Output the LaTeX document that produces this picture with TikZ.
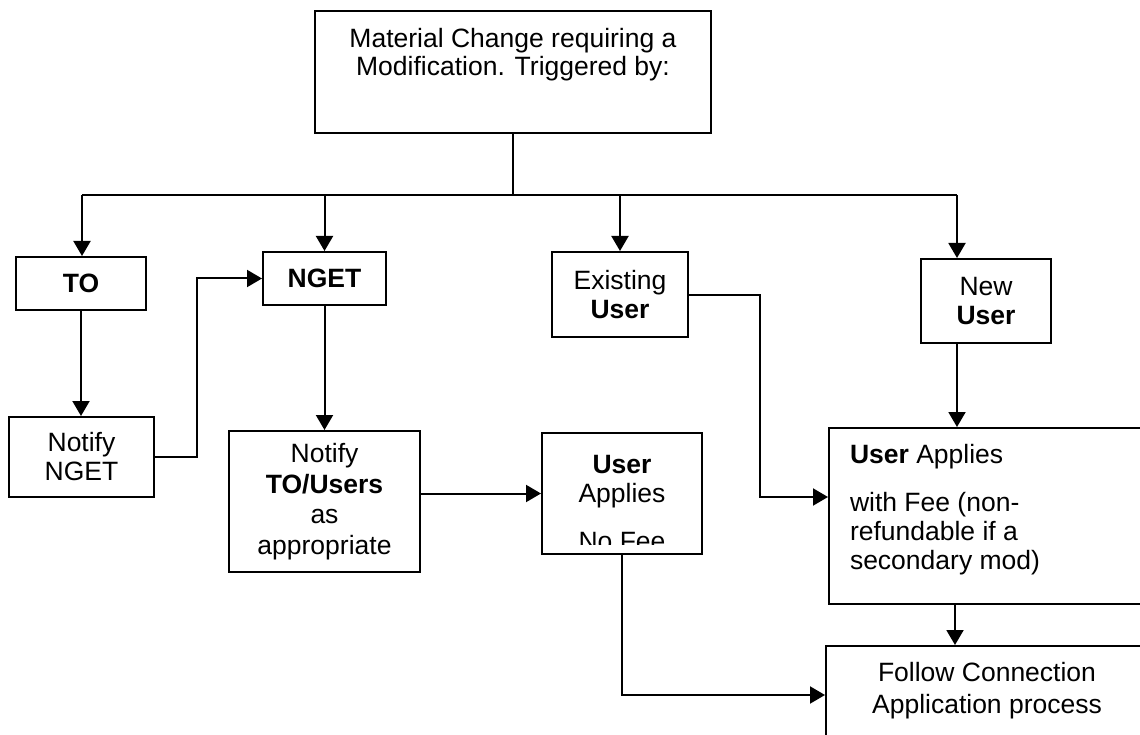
\documentclass[tikz,border=0pt]{standalone}
\usepackage{fontspec}
\setmainfont{Liberation Sans}
\usetikzlibrary{arrows.meta}
\begin{document}
\begin{tikzpicture}[x=1pt,y=-1pt,
  box/.style={draw, line width=2pt, rectangle, inner sep=0pt, align=center,
    font=\fontsize{26.5}{29}\selectfont},
  line/.style={line width=2pt},
  arr/.style={line width=2pt, -{Triangle[length=15pt,width=17pt]}}]
\clip (0,0) rectangle (1140,735);
\fill[white] (0,0) rectangle (1140,735);

% nodes
\node[box, anchor=north west, font=\fontsize{26.5}{27.5}\selectfont] (top) at (314,10)
  {\parbox[c][122pt][t]{396pt}{\centering\rule{0pt}{37pt}Material Change requiring a\\Modification. Triggered by:}};
\node[box, minimum width=130pt, minimum height=53pt, font=\fontsize{26.5}{29}\selectfont\bfseries] (TO) at (81,283.5) {TO};
\node[box, minimum width=123pt, minimum height=53pt, font=\fontsize{26.5}{29}\selectfont\bfseries] (NGET) at (324.5,278.5) {NGET};
\node[box, minimum width=136pt, minimum height=85pt] (ex) at (620,294.5) {Existing\\\textbf{User}};
\node[box, minimum width=130pt, minimum height=84pt] (new) at (986,301) {New\\\textbf{User}};
\node[box, minimum width=145pt, minimum height=80pt] (notN) at (81.5,457) {Notify\\NGET};
\node[box, minimum width=191pt, minimum height=141pt, font=\fontsize{26.5}{30.5}\selectfont] (notTU) at (324.5,501.5)
  {Notify\\\textbf{TO/Users}\\as\\appropriate};
\node[box, anchor=north west, minimum width=160pt, minimum height=121pt,
  path picture={
    \clip ([yshift=10pt]path picture bounding box.south west) rectangle (path picture bounding box.north east);
    \node[anchor=north, inner sep=0pt, align=center, font=\fontsize{26.5}{29}\selectfont]
      at (path picture bounding box.north) {\rule{0pt}{35pt}\textbf{User}\\Applies\\[19pt]No Fee};
  }] (nofee) at (541,432) {};
\node[box, anchor=north west] (ua) at (828,427)
  {\parbox[c][176pt][t]{320pt}{\raggedright\leftskip=21pt\relax\rule{0pt}{35pt}\textbf{User} Applies\\[19pt]with Fee (non-\\refundable if a\\secondary mod)}};
\node[box, anchor=north west] (fol) at (825,645)
  {\parbox[c][120pt][t]{322pt}{\centering\rule{0pt}{35pt}Follow Connection\\[3pt]Application process}};

% connectors
\coordinate (busL) at (82,195);
\coordinate (busR) at (957,195);
\draw[line] (top.south) -- (top.south |- busL);
\draw[line] (busL) -- (busR);
\draw[arr] (busL) -- (busL |- TO.north);
\draw[arr] (NGET.north |- busL) -- (NGET.north);
\draw[arr] (ex.north |- busL) -- (ex.north);
\draw[arr] (busR) -- (busR |- new.north);
\draw[arr] (TO.south) -- (TO.south |- notN.north);
\draw[arr] (notN.east) -- ++(42,0) |- (NGET.west);
\draw[arr] (NGET.south) -- (NGET.south |- notTU.north);
\draw[arr] (notTU.east |- nofee.west) -- (nofee.west);
\coordinate (uaIn) at ([yshift=-70pt]ua.north west);
\draw[arr] (ex.east) -- ++(71,0) |- (uaIn);
\draw[arr] (busR |- new.south) -- (busR |- ua.north);
\coordinate (uaOut) at ([xshift=127pt]ua.south west);
\draw[arr] (uaOut) -- (uaOut |- fol.north);
\coordinate (folIn) at ([yshift=-50pt]fol.north west);
\draw[arr] (nofee.south) |- (folIn);
\end{tikzpicture}
\end{document}
